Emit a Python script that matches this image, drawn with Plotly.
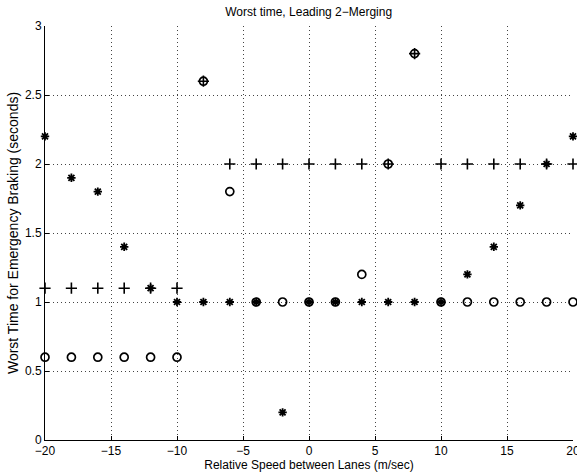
import plotly.graph_objects as go

speed = [-20, -18, -16, -14, -12, -10, -8, -6, -4, -2, 0, 2, 4, 6, 8, 10, 12, 14, 16, 18, 20]
star_vals = [2.2, 1.9, 1.8, 1.4, 1.1, 1.0, 1.0, 1.0, 1.0, 0.2, 1.0, 1.0, 1.0, 1.0, 1.0, 1.0, 1.2, 1.4, 1.7, 2.0, 2.2]
circle_vals = [0.6, 0.6, 0.6, 0.6, 0.6, 0.6, 2.6, 1.8, 1.0, 1.0, 1.0, 1.0, 1.2, 2.0, 2.8, 1.0, 1.0, 1.0, 1.0, 1.0, 1.0]
plus_vals = [1.1, 1.1, 1.1, 1.1, 1.1, 1.1, 2.6, 2.0, 2.0, 2.0, 2.0, 2.0, 2.0, 2.0, 2.8, 2.0, 2.0, 2.0, 2.0, 2.0, 2.0]

x_ticks = [-20, -15, -10, -5, 0, 5, 10, 15, 20]
y_ticks = [0, 0.5, 1, 1.5, 2, 2.5, 3]

fig = go.Figure()
fig.add_trace(go.Scatter(x=speed, y=plus_vals, mode="markers", cliponaxis=False, hoverinfo="skip",
                         marker=dict(symbol="cross-thin-open", size=8, color="black",
                                     line=dict(color="black", width=1.6))))
fig.add_trace(go.Scatter(x=speed, y=circle_vals, mode="markers", cliponaxis=False, hoverinfo="skip",
                         marker=dict(symbol="circle-open", size=8, color="black",
                                     line=dict(color="black", width=1.7))))
fig.add_trace(go.Scatter(x=speed, y=star_vals, mode="markers", cliponaxis=False, hoverinfo="skip",
                         marker=dict(symbol="asterisk-open", size=7, color="black",
                                     line=dict(color="black", width=1.8))))

font = "Liberation Sans, Arial, Helvetica, sans-serif"
fig.update_layout(
    width=577, height=476,
    margin=dict(l=45, r=4, t=26, b=36, autoexpand=False),
    paper_bgcolor="white", plot_bgcolor="white",
    showlegend=False,
    font=dict(family=font, size=12, color="black"),
    title=dict(text="Worst time, Leading 2\u2212Merging", x=0.535, xanchor="center",
               y=0.975, yanchor="middle", font=dict(size=12, family=font, color="black")),
)
fig.update_xaxes(range=[-20, 20], tickvals=x_ticks, ticktext=[str(v).replace("-", "\u2212") for v in x_ticks],
                 showgrid=True, gridcolor="#444", griddash="1px,3px", gridwidth=1,
                 showline=True, linecolor="black", linewidth=1, mirror=False,
                 ticks="inside", ticklen=4, tickcolor="black", zeroline=False,
                 tickfont=dict(size=12), automargin=False, ticklabeloverflow="allow",
                 title=dict(text="Relative Speed between Lanes (m/sec)", font=dict(size=12), standoff=0))
fig.update_yaxes(range=[0, 3], tickvals=y_ticks, ticktext=["0", "0.5", "1", "1.5", "2", "2.5", "3"],
                 showgrid=True, gridcolor="#444", griddash="1px,3px", gridwidth=1,
                 showline=True, linecolor="black", linewidth=1, mirror=False,
                 ticks="inside", ticklen=4, tickcolor="black", zeroline=False,
                 tickfont=dict(size=12), automargin=False, ticklabeloverflow="allow",
                 title=dict(text="Worst Time for Emergency Braking (seconds)", font=dict(size=14), standoff=3))

fig.write_html("out.html", config={"displayModeBar": False},
               post_script="document.body.style.margin='0';")
